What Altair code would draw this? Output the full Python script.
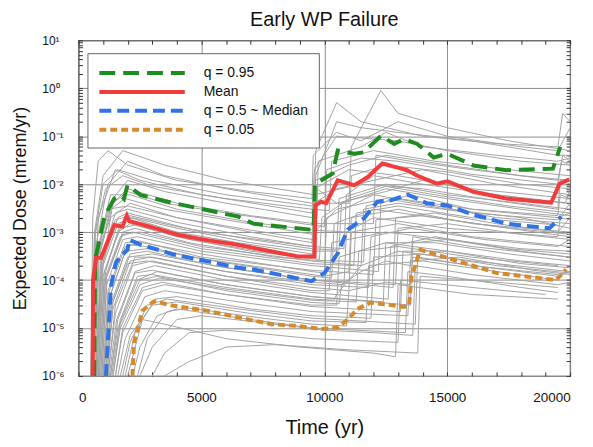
import altair as alt
import pandas as pd

TITLE = "Early WP Failure"
X_TITLE = "Time (yr)"
Y_TITLE = "Expected Dose (mrem/yr)"
SERIES = ["q = 0.95", "Mean", "q = 0.5 ~ Median", "q = 0.05"]
COLORS = ["#1f8c1f", "#f23b3b", "#2f73e6", "#d68a2c"]
DASHES = [[16, 8], [1, 0], [12, 6], [7, 4]]

X_TICKS = [0, 1000, 2000, 3000, 4000, 5000, 6000, 7000, 8000, 9000, 10000,
           11000, 12000, 13000, 14000, 15000, 16000, 17000, 18000, 19000, 20000]
Y_DECADES = ["1e-6", "1e-5", "1e-4", "1e-3", "1e-2", "1e-1", "1e+0", "1e+1"]
Y_LABELS = ["10⁻⁶", "10⁻⁵", "10⁻⁴", "10⁻³", "10⁻²", "10⁻¹", "10⁰", "10¹"]
Y_TICKS = [float(f"{k}e{e}") for e in range(-6, 1) for k in range(1, 10)] + [10.0]

# statistics (time yr, dose mrem/yr)
Q95 = [(640, 1e-6), (673, 2.6e-4), (1050, 2.1e-3), (1455, 5e-3), (1725, 5.9e-3),
       (1850, 5e-3), (1995, 9.5e-3), (2530, 5.9e-3), (3880, 4e-3), (6505, 2.1e-3),
       (7110, 1.5e-3), (9470, 1.12e-3), (9560, 1.1e-3), (9620, 1e-2), (10340, 1.66e-2),
       (10545, 5e-2), (11220, 4.3e-2), (11600, 4.6e-2), (12300, 1.02e-1), (12840, 6.9e-2),
       (13240, 8.7e-2), (13780, 6.9e-2), (14450, 3.6e-2), (15000, 4.3e-2), (16070, 2.45e-2),
       (17410, 1.95e-2), (19300, 2.1e-2), (19600, 6e-2)]
MEAN = [(578, 1e-6), (590, 1e-4), (715, 2.9e-4), (915, 2.9e-4), (1455, 1.4e-3),
        (1790, 1.3e-3), (1966, 2.2e-3), (2060, 1.7e-3), (3000, 1.26e-3), (4000, 8.9e-4),
        (5000, 7.1e-4), (6505, 5.4e-4), (7110, 4.7e-4), (8930, 3.1e-4), (9600, 3.1e-4),
        (9640, 3.6e-3), (9870, 4.3e-3), (10075, 4e-3), (10545, 1.2e-2), (11220, 9.5e-3),
        (11760, 1.4e-2), (12360, 2.7e-2), (13370, 1.95e-2), (13780, 1.5e-2), (14590, 1.02e-2),
        (15000, 1.15e-2), (16070, 6.9e-3), (17410, 5e-3), (19230, 4.1e-3), (19570, 1.02e-2),
        (19970, 1.26e-2)]
MEDIAN = [(1115, 1e-6), (1320, 7.4e-5), (1520, 2.3e-4), (1790, 3.4e-4), (1995, 4.3e-4),
          (2060, 6.9e-4), (2530, 5.5e-4), (3880, 3.4e-4), (6505, 1.8e-4), (7110, 1.66e-4),
          (9470, 9.5e-5), (10010, 1.4e-4), (10545, 3.6e-4), (10950, 1.12e-3), (11620, 1.95e-3),
          (12160, 4.3e-3), (12700, 4.6e-3), (13400, 6e-3), (14180, 4e-3), (15000, 3.6e-3),
          (16070, 2.3e-3), (17410, 1.5e-3), (19160, 1.2e-3), (19640, 2.1e-3)]
Q05 = [(2195, 1e-6), (2260, 5e-6), (2600, 2.3e-5), (3070, 3.6e-5), (3880, 2.9e-5),
       (5220, 2.3e-5), (6505, 1.66e-5), (7850, 1.2e-5), (8930, 1.1e-5), (9870, 9.5e-6),
       (10545, 1.02e-5), (10950, 1.5e-5), (11350, 2.5e-5), (11890, 3.4e-5), (13240, 2.75e-5),
       (13450, 3e-5), (13550, 1.2e-4), (13700, 2e-4), (13900, 4.3e-4), (15000, 2.9e-4),
       (17010, 1.4e-4), (19430, 1e-4), (19840, 1.66e-4)]

# individual realizations (gray)
G01 = [(500, 1e-6), (650, 1e-3), (1000, 1.5e-2), (1800, 5e-2), (3500, 2.5e-2), (6000, 1.2e-2),
       (9600, 6e-3), (9650, 5e-2), (10500, 5e-1), (11500, 2e-1), (14000, 1e-1), (17000, 7e-2),
       (19500, 6e-2), (19700, 3e-1), (20000, 2e-1)]
G02 = [(550, 1e-6), (700, 5e-4), (1200, 1e-2), (2000, 3e-2), (3500, 1.5e-2), (6000, 8e-3),
       (9500, 4e-3), (11000, 4e-3), (11100, 6e-2), (12300, 9e-1), (13000, 3e-1), (15000, 1.5e-1),
       (17500, 8e-2), (20000, 5e-2)]
G03 = [(600, 1e-6), (800, 2e-3), (1500, 2e-2), (2500, 1.2e-2), (5000, 6e-3), (9500, 2.5e-3),
       (9600, 2e-2), (10500, 1e-1), (13000, 8e-2), (15000, 5e-2), (18000, 3e-2), (20000, 2.5e-2)]
G04 = [(700, 1e-6), (900, 1e-4), (1400, 4e-3), (2000, 8e-3), (4000, 4e-3), (7000, 2.2e-3),
       (9600, 1.5e-3), (12000, 1.5e-3), (12100, 4e-2), (13500, 3e-2), (16000, 2e-2),
       (19500, 1.2e-2), (19700, 4e-2), (20000, 3e-2)]
G05 = [(600, 1e-6), (750, 3e-4), (1300, 2e-3), (2100, 4e-3), (4000, 2e-3), (7000, 1e-3),
       (9500, 6e-4), (9600, 8e-3), (11000, 2e-2), (13000, 1.5e-2), (16000, 8e-3), (20000, 5e-3)]
G06 = [(800, 1e-6), (1000, 2e-4), (1600, 1.5e-3), (2200, 2e-3), (4000, 1.2e-3), (7000, 6e-4),
       (9600, 4e-4), (10500, 4e-4), (10600, 5e-3), (12500, 1e-2), (15000, 6e-3), (18000, 4e-3),
       (20000, 3e-3)]
G07 = [(900, 1e-6), (1100, 1e-4), (1800, 9e-4), (2500, 1e-3), (5000, 5e-4), (9500, 2.5e-4),
       (11500, 2e-4), (11600, 3e-3), (13000, 4e-3), (16000, 2.5e-3), (19500, 1.8e-3), (20000, 4e-3)]
G08 = [(1000, 1e-6), (1200, 5e-5), (1900, 5e-4), (2600, 6e-4), (5000, 3.5e-4), (9500, 1.5e-4),
       (10000, 1.4e-4), (10100, 2e-3), (12000, 6e-3), (14000, 4e-3), (17000, 2e-3), (20000, 1.5e-3)]
G09 = [(1100, 1e-6), (1300, 3e-5), (2000, 3e-4), (3000, 3.5e-4), (6000, 1.8e-4), (9500, 1e-4),
       (12800, 7e-5), (12900, 2e-3), (14500, 2.5e-3), (17000, 1.5e-3), (19500, 1e-3), (20000, 2e-3)]
G10 = [(1200, 1e-6), (1500, 2e-5), (2200, 2e-4), (3000, 2.5e-4), (6000, 1.2e-4), (9500, 7e-5),
       (11000, 6e-5), (11100, 1e-3), (13000, 1.5e-3), (16000, 8e-4), (20000, 5e-4)]
G11 = [(1300, 1e-6), (1600, 1e-5), (2400, 1e-4), (3200, 1.5e-4), (6000, 8e-5), (9500, 4.5e-5),
       (13500, 3e-5), (13600, 6e-4), (15000, 7e-4), (18000, 4e-4), (20000, 3e-4)]
G12 = [(1500, 1e-6), (1800, 8e-6), (2600, 6e-5), (3500, 8e-5), (6000, 5e-5), (9500, 3e-5),
       (10500, 3e-5), (10600, 3e-4), (12500, 6e-4), (15000, 4e-4), (18000, 2.5e-4), (20000, 2e-4)]
G13 = [(1800, 1e-6), (2100, 5e-6), (2800, 3e-5), (3600, 4e-5), (6500, 2.5e-5), (9500, 1.6e-5),
       (13700, 1.2e-5), (13800, 3e-4), (16000, 2e-4), (19500, 1.2e-4), (20000, 1.5e-4)]
G14 = [(2200, 1e-6), (2500, 4e-6), (3200, 1.8e-5), (4000, 2.5e-5), (7000, 1.5e-5), (9500, 1e-5),
       (13300, 8e-6), (13400, 1.5e-4), (15000, 1.2e-4), (18000, 7e-5), (19500, 5.5e-5)]
G15 = [(3000, 1e-6), (3500, 3e-6), (4500, 8e-6), (6000, 9e-6), (9500, 6e-6), (13000, 5e-6),
       (13100, 1e-4), (16000, 7e-5), (19000, 5e-5)]
G16 = [(3500, 1e-6), (4500, 2e-6), (6000, 4e-6), (8000, 4.5e-6), (11000, 3.5e-6), (13800, 3e-6),
       (13900, 1.2e-4), (17000, 9e-5), (19500, 7e-5)]
G17 = [(2000, 1e-6), (2600, 1.5e-5), (3500, 1.2e-5), (6000, 6e-6), (9000, 4e-6), (12000, 3e-6),
       (12900, 2.5e-6), (13000, 8e-5), (16000, 5e-5), (19500, 4e-5)]
G18 = [(650, 1e-6), (800, 5e-4), (1400, 5e-3), (2000, 1.2e-2), (3500, 7e-3), (6000, 4e-3),
       (9500, 2e-3), (9700, 2e-3), (9750, 3e-2), (11500, 6e-2), (12500, 1.2e-1), (14000, 6e-2),
       (17000, 4e-2), (19500, 3e-2), (20000, 3.5e-2)]
G19 = [(750, 1e-6), (950, 3e-4), (1500, 2.5e-3), (2000, 3e-3), (4000, 1.6e-3), (7000, 8e-4),
       (9500, 5e-4), (10800, 4.5e-4), (10900, 6e-3), (12000, 1.5e-2), (14000, 1e-2), (17000, 6e-3),
       (19800, 4e-3), (20000, 8e-3)]
G20 = [(850, 1e-6), (1050, 1.5e-4), (1700, 1.2e-3), (2300, 1.4e-3), (4500, 7e-4), (8000, 3.5e-4),
       (9500, 3e-4), (9600, 1e-3), (10500, 3e-3), (12500, 5e-3), (15000, 3e-3), (18000, 2e-3),
       (20000, 1.2e-3)]
G21 = [(950, 1e-6), (1150, 8e-5), (1800, 7e-4), (2400, 8e-4), (5000, 4e-4), (9500, 2e-4),
       (12200, 1.5e-4), (12300, 4e-3), (13500, 6e-3), (16000, 3e-3), (19500, 2e-3), (20000, 2.5e-3)]
G22 = [(1050, 1e-6), (1250, 4e-5), (1900, 4e-4), (2800, 4.5e-4), (5500, 2.5e-4), (9500, 1.2e-4),
       (10300, 1.1e-4), (10400, 1.5e-3), (12000, 3e-3), (14500, 2e-3), (17500, 1.2e-3), (20000, 8e-4)]
G23 = [(1150, 1e-6), (1400, 2.5e-5), (2100, 2.5e-4), (2900, 3e-4), (6000, 1.5e-4), (9500, 8e-5),
       (11800, 7e-5), (11900, 8e-4), (13500, 1.2e-3), (16500, 7e-4), (19500, 5e-4), (20000, 7e-4)]
G24 = [(1250, 1e-6), (1550, 1.5e-5), (2300, 1.5e-4), (3100, 2e-4), (6000, 1e-4), (9500, 5.5e-5),
       (12600, 4e-5), (12700, 5e-4), (14500, 8e-4), (17500, 4.5e-4), (20000, 3.5e-4)]
G25 = [(1400, 1e-6), (1700, 1e-5), (2500, 8e-5), (3300, 1.1e-4), (6000, 6.5e-5), (9500, 3.8e-5),
       (11300, 3.5e-5), (11400, 4e-4), (13000, 5e-4), (16000, 3e-4), (19500, 2e-4)]
G26 = [(1600, 1e-6), (1900, 6e-6), (2700, 4.5e-5), (3500, 6e-5), (6500, 3.5e-5), (9500, 2.2e-5),
       (13400, 1.8e-5), (13500, 2.5e-4), (15500, 3e-4), (18500, 1.6e-4), (20000, 1.3e-4)]
G27 = [(500, 1e-6), (580, 2e-3), (800, 3e-2), (1200, 5e-2), (2000, 2.5e-2), (4000, 1.2e-2),
       (7000, 7e-3), (9500, 5e-3), (9550, 4e-2), (10500, 1.2e-1), (11500, 8e-2), (13000, 2e-1),
       (15000, 1e-1), (18000, 6e-2), (19500, 5e-2), (20000, 1.5e-1)]
G28 = [(600, 1e-6), (700, 1e-3), (1100, 8e-3), (1800, 1.5e-2), (3000, 9e-3), (6000, 5e-3),
       (9500, 3e-3), (10200, 2.8e-3), (10300, 3e-2), (12000, 5e-2), (14500, 3e-2), (17500, 2e-2),
       (20000, 1.5e-2)]
G29 = [(700, 1e-6), (850, 6e-4), (1300, 6e-3), (2100, 6e-3), (4000, 3e-3), (7000, 1.6e-3),
       (9500, 1.1e-3), (11000, 1e-3), (11100, 1.5e-2), (12500, 2.5e-2), (15000, 1.8e-2),
       (18000, 1e-2), (20000, 8e-3)]
G30 = [(800, 1e-6), (950, 2e-4), (1600, 2e-3), (2000, 2.5e-3), (5000, 1e-3), (9500, 5e-4),
       (9600, 6e-3), (11500, 1e-2), (14000, 8e-3), (17000, 4.5e-3), (19500, 3e-3), (19600, 1.2e-2),
       (20000, 1e-2)]
G31 = [(1000, 1e-6), (1300, 5e-5), (2000, 5.5e-4), (2700, 5e-4), (5000, 2.8e-4), (9500, 1.3e-4),
       (10000, 1.2e-4), (11000, 1.5e-4), (11100, 2e-3), (13000, 3e-3), (16000, 1.5e-3), (20000, 1e-3)]
G32 = [(1350, 1e-6), (1700, 1.5e-5), (2400, 1.2e-4), (3000, 1.3e-4), (6000, 7e-5), (9500, 4e-5),
       (10400, 3.8e-5), (10500, 5e-5), (11500, 2e-4), (13000, 4e-4), (16000, 2.5e-4), (20000, 1.5e-4)]
G33 = [(1700, 1e-6), (2100, 7e-6), (3000, 3e-5), (4000, 3.5e-5), (7000, 2e-5), (9500, 1.4e-5),
       (11700, 1.3e-5), (11800, 2e-4), (14000, 2.5e-4), (17000, 1.5e-4), (19500, 1e-4)]
G34 = [(2500, 1e-6), (3000, 4e-6), (4000, 1.5e-5), (5000, 1.8e-5), (8000, 1.2e-5), (10000, 9e-6),
       (12000, 8e-6), (13600, 7e-6), (13700, 2e-4), (16000, 1.3e-4), (19500, 8e-5), (20000, 9e-5)]
G35 = [(900, 1e-6), (1100, 1.5e-4), (1700, 1.5e-3), (2100, 2e-3), (4000, 1e-3), (6500, 6e-4),
       (9500, 3.5e-4), (9650, 3.5e-4), (9700, 8e-3), (10500, 4e-3), (12500, 7e-3), (14000, 1.2e-2),
       (17000, 6e-3), (20000, 4e-3)]
G36 = [(1200, 1e-6), (1500, 3e-5), (2300, 3e-4), (3000, 3e-4), (6000, 1.5e-4), (9500, 9e-5),
       (10800, 8e-5), (10900, 1e-3), (12000, 2e-3), (15000, 1.2e-3), (19500, 8e-4), (19600, 2e-3),
       (20000, 1.8e-3)]
G37 = [(650, 1e-6), (800, 3e-4), (1300, 3e-3), (1900, 5e-3), (3500, 3e-3), (6000, 1.8e-3),
       (9500, 9e-4), (9600, 9e-4), (9650, 1.2e-2), (11000, 2.5e-2), (12500, 4e-2), (15000, 2.5e-2),
       (18000, 1.5e-2), (20000, 1.2e-2)]
G38 = [(700, 1e-6), (900, 2e-4), (1500, 1.8e-3), (2100, 2.2e-3), (4000, 1.3e-3), (7000, 7e-4),
       (9500, 4.5e-4), (10600, 4.2e-4), (10700, 4e-3), (12500, 8e-3), (15000, 5e-3), (18000, 3e-3),
       (20000, 2.2e-3)]
G39 = [(850, 1e-6), (1050, 1e-4), (1700, 8e-4), (2200, 1e-3), (5000, 4.5e-4), (9500, 2.2e-4),
       (11200, 2e-4), (11300, 2.5e-3), (13000, 3.5e-3), (16000, 2e-3), (19500, 1.4e-3)]
G40 = [(1000, 1e-6), (1200, 6e-5), (1900, 6e-4), (2500, 6.5e-4), (5000, 3e-4), (9500, 1.6e-4),
       (12000, 1.3e-4), (12100, 1.8e-3), (14000, 2.2e-3), (17000, 1.3e-3), (20000, 9e-4)]
G41 = [(1100, 1e-6), (1350, 3e-5), (2000, 2.2e-4), (2800, 2.5e-4), (6000, 1.2e-4), (9500, 6e-5),
       (10200, 6e-5), (10300, 6e-4), (12500, 1e-3), (15000, 7e-4), (18000, 4.5e-4), (20000, 4e-4)]
G42 = [(1300, 1e-6), (1600, 1.5e-5), (2300, 1.4e-4), (3000, 1.6e-4), (6000, 8e-5), (9500, 4.5e-5),
       (12400, 3.5e-5), (12500, 6e-4), (14500, 6e-4), (17500, 3.5e-4), (20000, 2.5e-4)]
G43 = [(1500, 1e-6), (1800, 1e-5), (2600, 7e-5), (3400, 9e-5), (6000, 5e-5), (9500, 2.8e-5),
       (13100, 2.2e-5), (13200, 4e-4), (15000, 4e-4), (18000, 2.2e-4), (20000, 1.8e-4)]
G44 = [(750, 1e-6), (900, 4e-4), (1400, 4e-3), (2000, 7e-3), (3500, 4e-3), (6000, 2.5e-3),
       (9500, 1.4e-3), (10000, 1.3e-3), (10100, 2e-2), (11500, 3.5e-2), (13000, 3e-2),
       (16000, 1.6e-2), (19500, 1e-2), (19650, 3e-2), (20000, 2.5e-2)]
G45 = [(600, 1e-6), (700, 2e-4), (1200, 3e-3), (2000, 3.5e-3), (4000, 2e-3), (7000, 1.1e-3),
       (9500, 7e-4), (9550, 7e-4), (9600, 4e-3), (10500, 8e-3), (12000, 1.2e-2), (14000, 2e-2),
       (17000, 1e-2), (20000, 6e-3)]
G46 = [(950, 1e-6), (1150, 1.2e-4), (1800, 1e-3), (2300, 1.2e-3), (4500, 6e-4), (8000, 3e-4),
       (9500, 2.6e-4), (11600, 2.4e-4), (11700, 3.5e-3), (13000, 5e-3), (16000, 3e-3),
       (19500, 2.2e-3), (19600, 6e-3), (20000, 5e-3)]
G47 = [(1150, 1e-6), (1400, 3.5e-5), (2100, 3.5e-4), (2800, 4e-4), (5500, 2e-4), (9500, 1e-4),
       (12900, 8e-5), (13000, 1.2e-3), (15000, 1.5e-3), (18000, 9e-4), (20000, 7e-4)]
G48 = [(1400, 1e-6), (1700, 1.2e-5), (2500, 1e-4), (3200, 1.2e-4), (6000, 6e-5), (9500, 3.4e-5),
       (10600, 3.2e-5), (10700, 8e-5), (11500, 1.5e-4), (12500, 2.5e-4), (13500, 2e-4),
       (13600, 8e-4), (16000, 5e-4), (20000, 3e-4)]
G49 = [(1900, 1e-6), (2300, 8e-6), (3100, 4e-5), (4000, 4.5e-5), (7000, 2.5e-5), (9500, 1.8e-5),
       (11900, 1.6e-5), (12000, 3e-4), (14000, 3.5e-4), (17000, 2e-4), (20000, 1.4e-4)]
G50 = [(2400, 1e-6), (2800, 6e-6), (3600, 2.2e-5), (4500, 2.6e-5), (7500, 1.6e-5), (9500, 1.2e-5),
       (10900, 1.1e-5), (11000, 6e-5), (12500, 9e-5), (13500, 8e-5), (13600, 3e-4), (16000, 2e-4),
       (19500, 1.3e-4)]
G51 = [(550, 1e-6), (650, 8e-4), (1000, 1e-2), (1600, 2e-2), (3000, 1.2e-2), (6000, 6e-3),
       (9500, 3.5e-3), (9600, 3.5e-3), (9650, 1.5e-2), (10500, 2e-1), (11500, 1.5e-1),
       (13000, 1.2e-1), (16000, 8e-2), (19500, 4e-2), (20000, 4e-2)]
G52 = [(800, 1e-6), (1000, 1.2e-4), (1600, 1e-3), (2100, 1.5e-3), (4000, 8e-4), (7000, 4e-4),
       (9500, 2.8e-4), (9800, 2.7e-4), (9900, 2e-3), (11000, 5e-3), (12500, 9e-3), (14500, 6e-3),
       (17500, 3.5e-3), (20000, 2.5e-3)]

GRAY = [G01, G02, G03, G04, G05, G06, G07, G08, G09, G10, G11, G12, G13, G14, G15, G16, G17, G18,
        G19, G20, G21, G22, G23, G24, G25, G26, G27, G28, G29, G30, G31, G32, G33, G34, G35, G36,
        G37, G38, G39, G40, G41, G42, G43, G44, G45, G46, G47, G48, G49, G50, G51, G52]
STATS = [Q95, MEAN, MEDIAN, Q05]

gray_rows = []
for r, line in enumerate(GRAY):
    for i, (t, v) in enumerate(line):
        gray_rows.append({"run": r, "idx": i, "t": t, "v": v})
gray_df = pd.DataFrame(gray_rows)

stat_rows = []
for name, line in zip(SERIES, STATS):
    for i, (t, v) in enumerate(line):
        stat_rows.append({"series": name, "idx": i, "t": t, "v": v})
stat_df = pd.DataFrame(stat_rows)

FONT = "Liberation Sans"
decade_test = "indexof(format(datum.value, '.0e'), '1e') === 0"
y_label_expr = " : ".join(
    f"format(datum.value, '.0e') === '{d}' ? '{l}'" for d, l in zip(Y_DECADES, Y_LABELS)
) + " : ''"

x_scale = alt.Scale(domain=[0, 20000], nice=False, zero=False)
y_scale = alt.Scale(type="log", domain=[1e-6, 10], nice=False)

x_axis = alt.Axis(
    values=X_TICKS, orient="bottom", offset=-4, tickSize=4, tickColor="#333", domain=False,
    labelExpr="datum.value % 5000 === 0 ? format(datum.value, 'd') : ''",
    labelOverlap=False, labelFontSize=13.5, labelColor="#111", labelPadding=15, labelFont=FONT,
    grid=True, gridColor="#8c8c8c", gridWidth=1,
    gridOpacity={"condition": {"test": "datum.value % 5000 === 0", "value": 1}, "value": 0},
    title=X_TITLE, titleFontSize=20, titleFontWeight="normal", titleColor="#111",
    titleFont=FONT, titlePadding=13,
)
y_axis = alt.Axis(
    values=Y_TICKS, orient="left", offset=-4, tickSize=4, tickColor="#333", domain=False,
    labelExpr=y_label_expr, labelOverlap=False, labelAlign="left", labelPadding=37,
    labelFontSize=12, labelColor="#111", labelFont=FONT,
    grid=True, gridColor="#8c8c8c", gridWidth=1,
    gridOpacity={"condition": {"test": decade_test, "value": 1}, "value": 0},
    title=Y_TITLE, titleFontSize=18, titleFontWeight="normal", titleColor="#111",
    titleFont=FONT, titlePadding=12,
)
x_top = alt.Axis(values=X_TICKS, orient="top", offset=-4, tickSize=4, tickColor="#333",
                 domain=False, labels=False, grid=False, title=None)
y_right = alt.Axis(values=Y_TICKS, orient="right", offset=-4, tickSize=4, tickColor="#333",
                   domain=False, labels=False, grid=False, title=None)

legend = alt.Legend(
    title=None, orient="none", legendX=9, legendY=13, symbolType="M-1,0H9.75",
    symbolSize=256, symbolStrokeWidth=4, labelFontSize=14, labelFont=FONT,
    labelColor="#111", labelOffset=87, padding=10, rowPadding=1,
    strokeColor="#666", fillColor="white",
)

gray = alt.Chart(gray_df).mark_line(color="#a3a3a3", strokeWidth=1.0, clip=True).encode(
    x=alt.X("t:Q", scale=x_scale, axis=x_axis),
    y=alt.Y("v:Q", scale=y_scale, axis=y_axis),
    detail="run:N",
    order="idx:Q",
)

stats = alt.Chart(stat_df).mark_line(strokeWidth=4, clip=True).encode(
    x=alt.X("t:Q", scale=x_scale, axis=x_axis),
    y=alt.Y("v:Q", scale=y_scale, axis=y_axis),
    color=alt.Color("series:N", scale=alt.Scale(domain=SERIES, range=COLORS), sort=SERIES,
                    legend=legend),
    strokeDash=alt.StrokeDash("series:N", scale=alt.Scale(domain=SERIES, range=DASHES),
                              sort=SERIES, legend=legend),
    order="idx:Q",
)

frame = alt.Chart(stat_df).mark_line(opacity=0).encode(
    x=alt.X("t:Q", scale=x_scale, axis=x_top),
    y=alt.Y("v:Q", scale=y_scale, axis=y_right),
    detail="series:N",
)

chart = alt.layer(alt.layer(gray, stats), frame).resolve_scale(
    x="independent", y="independent"
).properties(
    width=495, height=338,
    title=alt.TitleParams(TITLE, fontSize=20, fontWeight="normal", font=FONT, color="#111",
                          anchor="middle", offset=4, frame="group"),
    padding={"left": 71, "top": 31, "right": 15, "bottom": 62},
    autosize="none",
).configure_view(stroke="#222", strokeWidth=1.2)

chart.save("out.html", embed_options={"renderer": "svg", "actions": False})
